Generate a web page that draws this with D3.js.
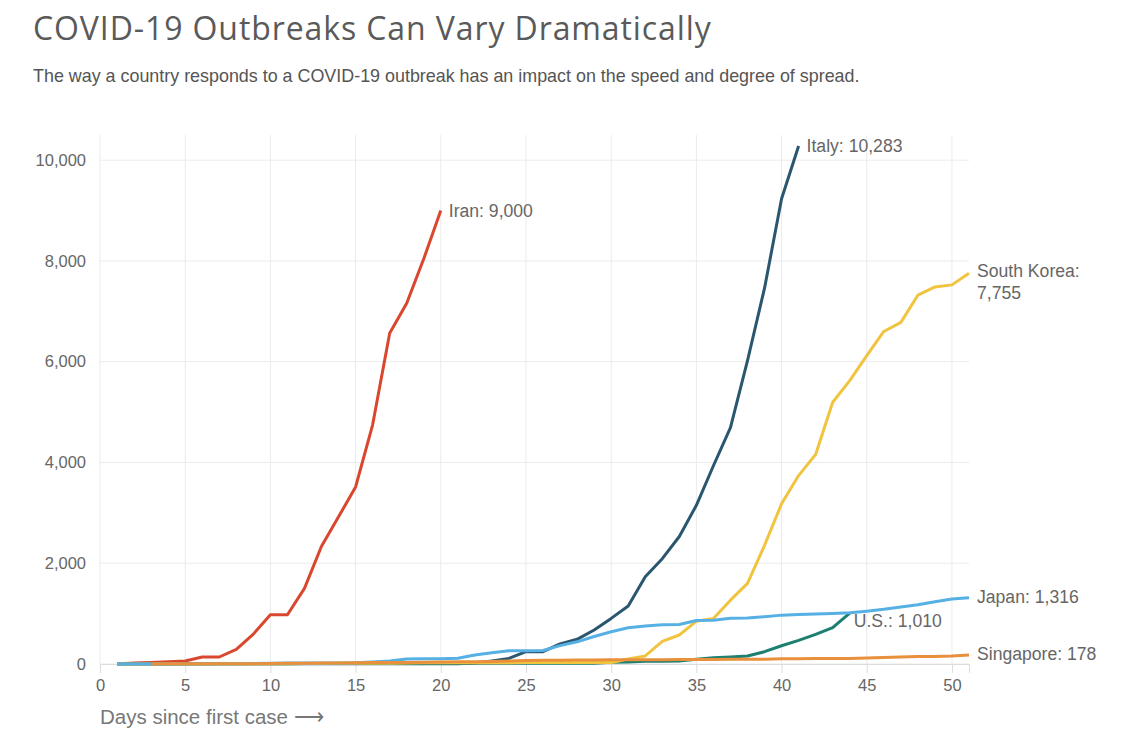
<!DOCTYPE html>
<html>
<head>
<meta charset="utf-8">
<script src="https://cdn.jsdelivr.net/npm/d3@7"></script>
<style>
  body { margin: 0; background: #fff; }
  svg { display: block; }
  .title { font-family: "Open Sans", sans-serif; font-size: 32px; letter-spacing: 0.9px; fill: #5a5a5a; }
  .subtitle { font-family: "Liberation Sans", Arial, sans-serif; font-size: 17.9px; fill: #555; }
  .tick text { font-family: "Liberation Sans", Arial, sans-serif; font-size: 16.5px; fill: #666; }
  .label { font-family: "Liberation Sans", Arial, sans-serif; font-size: 17.6px; fill: #666; }
  .axis-title { font-family: "Liberation Sans", Arial, sans-serif; font-size: 20.5px; fill: #777; }
</style>
</head>
<body>
<svg width="1140" height="753"></svg>
<script>
//days since first case, one list per country (first value is day startDay)
var iran = [2, 18, 28, 43, 61, 139, 139, 290, 593, 978, 978, 1501, 2336, 2922, 3513, 4747, 6566, 7161, 8042, 9000];
var italy = [2, 2, 2, 2, 2, 2, 3, 3, 3, 3, 3, 3, 3, 3, 3, 3, 3, 3, 3, 3,
  3, 20, 62, 110, 245, 245, 400, 490, 675, 905, 1150, 1730, 2090, 2530, 3150, 3935, 4690, 6020, 7460, 9235, 10283];
var southKorea = [1, 1, 1, 1, 2, 2, 3, 4, 4, 4, 6, 11, 12, 15, 15, 16, 16, 19, 23, 23, 24, 24, 25, 27, 28, 28, 28, 28, 28, 29,
  100, 160, 450, 575, 850, 905, 1267, 1600, 2356, 3180, 3740, 4160, 5195, 5624, 6120, 6600, 6780, 7320, 7485, 7525, 7755];
var us = [1, 1, 1, 2, 3, 5, 5, 5, 5, 6, 7, 8, 11, 11, 11, 12, 12, 12, 12, 12, 13, 13, 14, 14, 15, 15, 15, 15, 15, 34,
  40, 53, 57, 60, 92, 125, 140, 160, 244, 363, 470, 587, 720, 1010];
var japan = [2, 2, 2, 2, 4, 4, 7, 7, 11, 15, 20, 20, 20, 22, 25, 40, 59, 100, 105, 105,
  113, 178, 225, 265, 265, 268, 365, 440, 545, 640, 720, 755, 780, 785, 865, 870, 910, 915, 940, 970,
  983, 993, 1003, 1016, 1048, 1085, 1130, 1175, 1235, 1290, 1316];
var singapore = [1, 3, 3, 4, 5, 7, 7, 10, 13, 16, 18, 18, 24, 28, 28, 30, 33, 40, 45, 47, 50, 58, 67, 72, 75,
  77, 81, 84, 84, 85, 85, 89, 89, 91, 93, 93, 93, 102, 106, 108, 110, 110, 117, 130, 138, 150, 150, 160, 178];

var xTicks = [0, 5, 10, 15, 20, 25, 30, 35, 40, 45, 50];
var yTicks = [0, 2000, 4000, 6000, 8000, 10000];

//drawing order matters: later lines sit on top
var countries = [
  { name: "Iran", values: iran, startDay: 1, color: "#d9472f", dx: 8, dy: 0 },
  { name: "Italy", values: italy, startDay: 1, color: "#2a5670", dx: 8, dy: 0 },
  { name: "U.S.", values: us, startDay: 1, color: "#1c7f72", dx: 4, dy: 8 },
  { name: "South Korea", values: southKorea, startDay: 1, color: "#f1c440", dx: 8, dy: -2, wrap: true },
  { name: "Japan", values: japan, startDay: 1, color: "#56b0e4", dx: 8, dy: -1 },
  { name: "Singapore", values: singapore, startDay: 3, color: "#e8903b", dx: 8, dy: -1 }
];

var svg = d3.select("svg");
var margin = { top: 135, right: 171, bottom: 89, left: 100 };
var width = 1140 - margin.left - margin.right,
  height = 753 - margin.top - margin.bottom;

svg.append("text").attr("class", "title")
  .attr("x", 33).attr("y", 40)
  .text("COVID-19 Outbreaks Can Vary Dramatically");

svg.append("text").attr("class", "subtitle")
  .attr("x", 33).attr("y", 82)
  .text("The way a country responds to a COVID-19 outbreak has an impact on the speed and degree of spread.");

var g = svg.append("g").attr("transform", "translate(" + margin.left + "," + margin.top + ")");

var x = d3.scaleLinear().domain([0, 51]).range([0, width]);
var y = d3.scaleLinear().domain([0, 10500]).range([height, 0]);

//grid lines
g.append("g").selectAll("line.v")
  .data(xTicks).enter().append("line")
  .attr("x1", function(d) { return x(d); })
  .attr("x2", function(d) { return x(d); })
  .attr("y1", 0).attr("y2", height)
  .style("stroke", "#ebebeb").style("stroke-width", 1);

g.append("g").selectAll("line.h")
  .data(yTicks).enter().append("line")
  .attr("x1", 0).attr("x2", width)
  .attr("y1", function(d) { return y(d); })
  .attr("y2", function(d) { return y(d); })
  .style("stroke", "#ebebeb").style("stroke-width", 1);

//x axis
var xAxis = g.append("g")
  .attr("transform", "translate(0," + height + ")")
  .call(d3.axisBottom(x).tickValues(xTicks).tickSize(9).tickPadding(6));
xAxis.selectAll("line, path").style("stroke", "#dcdcdc");

//y axis, labels only
var yAxis = g.append("g")
  .call(d3.axisLeft(y).tickValues(yTicks).tickSize(0).tickPadding(14).tickFormat(d3.format(",")));
yAxis.select(".domain").remove();

g.append("text").attr("class", "axis-title")
  .attr("x", 0).attr("y", height + 60)
  .text("Days since first case \u27F6");

var line = d3.line()
  .x(function(d) { return x(d[0]); })
  .y(function(d) { return y(d[1]); });

countries.forEach(function(c) {
  var pts = c.values.map(function(v, i) { return [c.startDay + i, v]; });
  c.last = pts[pts.length - 1];
  g.append("path")
    .datum(pts)
    .attr("d", line)
    .style("fill", "none")
    .style("stroke", c.color)
    .style("stroke-width", 3)
    .style("stroke-linejoin", "round");
});

var fmt = d3.format(",");
countries.forEach(function(c) {
  var t = g.append("text").attr("class", "label")
    .attr("x", x(c.last[0]) + c.dx)
    .attr("y", y(c.last[1]) + c.dy)
    .attr("dy", "0.35em");
  if (c.wrap) {
    t.append("tspan").text(c.name + ":");
    t.append("tspan").attr("x", x(c.last[0]) + c.dx).attr("dy", "1.2em").text(fmt(c.last[1]));
  } else {
    t.text(c.name + ": " + fmt(c.last[1]));
  }
});
</script>
</body>
</html>
